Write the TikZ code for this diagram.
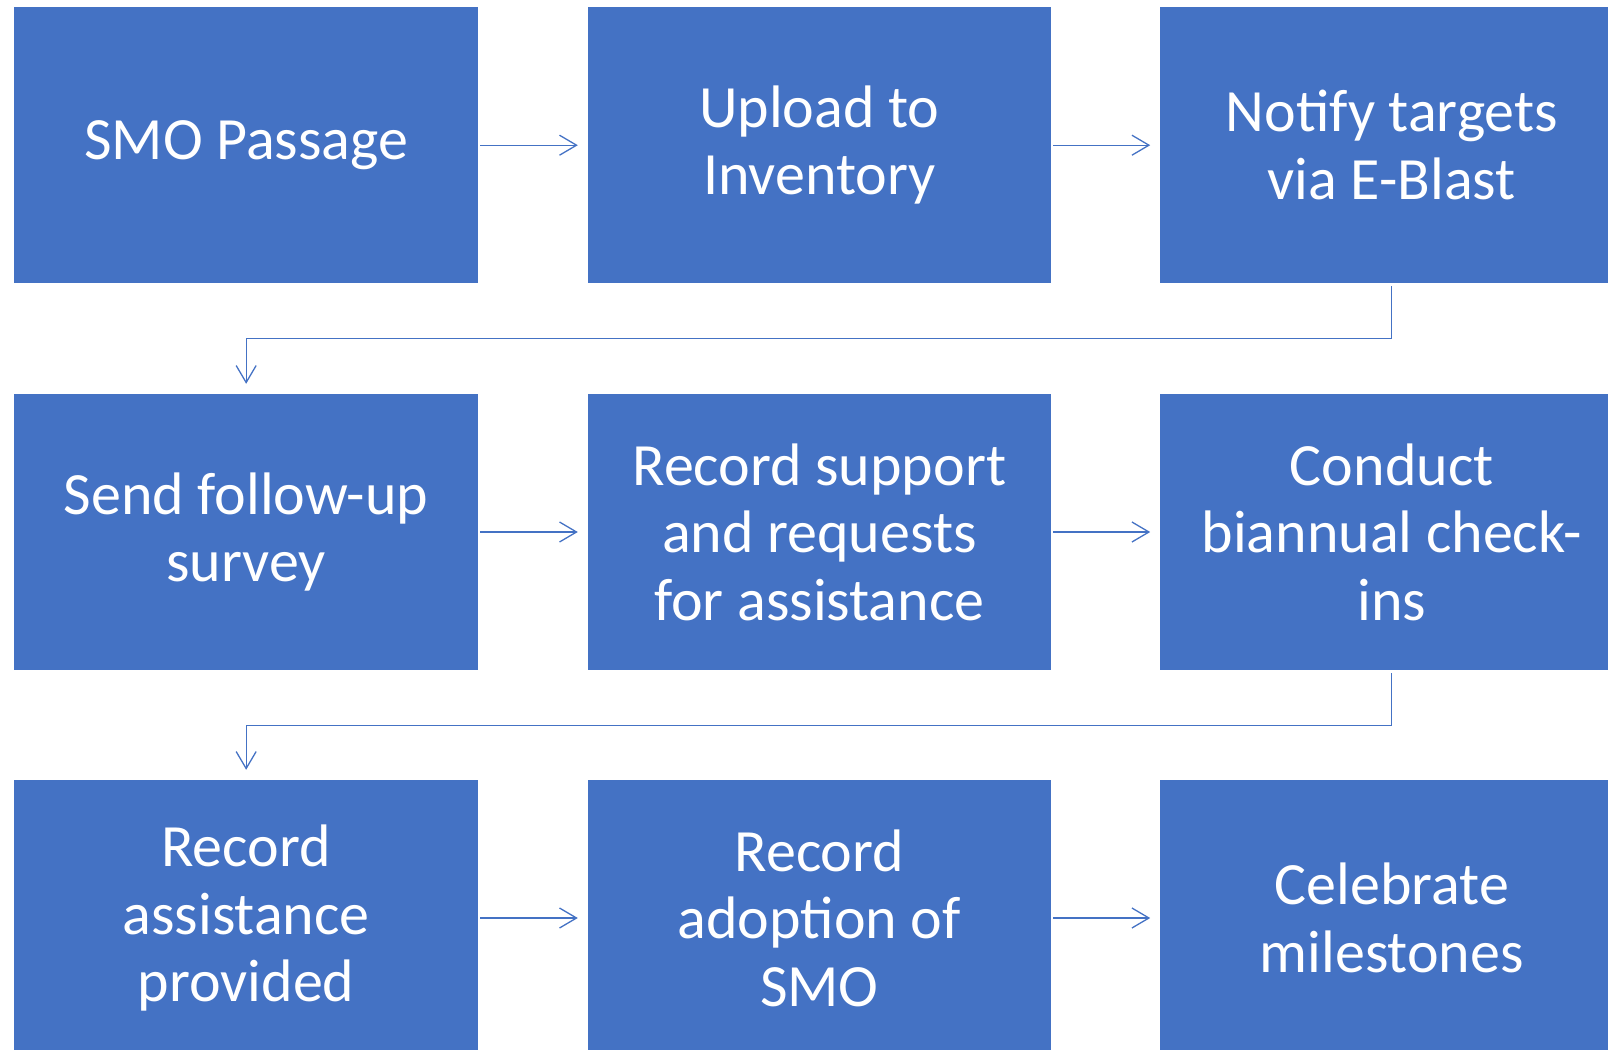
\documentclass[tikz,border=0pt]{standalone}
\usepackage{fontspec}
\setmainfont{Carlito}
\usetikzlibrary{arrows.meta}
\definecolor{boxblue}{HTML}{4472C4}
\begin{document}
\begin{tikzpicture}[x=1pt,y=-1pt,
  stepbox/.style={rectangle, fill=boxblue, draw=none, text=white,
    minimum width=463.5pt, minimum height=276pt, inner sep=0pt,
    align=center, font=\fontsize{60}{67.5}\selectfont},
  arr/.style={draw=boxblue, line width=1.3pt,
    -{Straight Barb[length=17pt,width=20pt,line width=1.3pt]}},
  flow/.style={arr, shorten <=2pt, shorten >=9.6pt},
  wrap/.style={arr, shorten <=3pt, shorten >=10pt}]
\useasboundingbox (0,0) rectangle (1608,1049);
\begin{scope}
\clip (0,0) rectangle (1608,1049);
\node[stepbox] (a1) at (246.15,145.2) {SMO Passage};
\node[stepbox] (a2) at (819.35,145.2) {Upload to\\Inventory};
\node[stepbox] (a3) at (1391.75,145.2) {Notify targets\\via E-Blast};
\node[stepbox] (b1) at (246.15,532) {Send follow-up\\survey};
\node[stepbox] (b2) at (819.35,532) {Record support\\and requests\\for assistance};
\node[stepbox] (b3) at (1391.75,532) {Conduct\\biannual check-\\ins};
\node[stepbox] (c1) at (246.15,918) {Record\\assistance\\provided};
\node[stepbox] (c2) at (819.35,918) {Record\\adoption of\\SMO};
\node[stepbox] (c3) at (1391.75,918) {Celebrate\\milestones};
\end{scope}
\draw[flow] (a1) -- (a2);
\draw[flow] (a2) -- (a3);
\draw[flow] (b1) -- (b2);
\draw[flow] (b2) -- (b3);
\draw[flow] (c1) -- (c2);
\draw[flow] (c2) -- (c3);
\draw[wrap] (a3.south) -- ++(0,55) -| (b1.north);
\draw[wrap] (b3.south) -- ++(0,55) -| (c1.north);
\end{tikzpicture}
\end{document}
